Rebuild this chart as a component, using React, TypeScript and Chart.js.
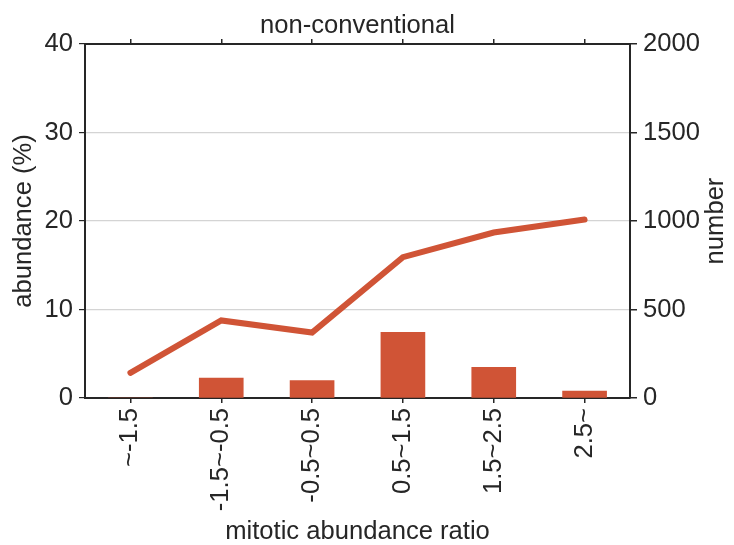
import React, { useEffect, useRef } from "react";
import { Chart, registerables } from "chart.js";

Chart.register(...registerables);

const categories = ["~-1.5", "-1.5~-0.5", "-0.5~0.5", "0.5~1.5", "1.5~2.5", "2.5~"];
const abundancePct = [0, 2.24, 1.98, 7.42, 3.46, 0.77];
const numberCounts = [142, 438, 370, 796, 935, 1008];
const leftTicks = [0, 10, 20, 30, 40];
const rightTicks = [0, 500, 1000, 1500, 2000];

const W = 734;
const H = 545;
const PLOT_LEFT = 85;
const PLOT_RIGHT = 630;
const PLOT_TOP = 44;
const PLOT_BOTTOM = 398;

const COLOR = "#D05436";
const AXIS = "#262626";
const FONT = "'Liberation Sans', Arial, Helvetica, sans-serif";
const FS = 25.6;

const rightTitle = {
  id: "rightTitle",
  afterDraw(chart: any) {
    const ctx = chart.ctx;
    const area = chart.chartArea;
    ctx.save();
    ctx.fillStyle = AXIS;
    ctx.font = `${FS}px ${FONT}`;
    ctx.textAlign = "center";
    ctx.textBaseline = "middle";
    ctx.translate(716, (area.top + area.bottom) / 2);
    ctx.rotate(-Math.PI / 2);
    ctx.fillText("number", 0, 0);
    ctx.restore();
  },
};

export default function App() {
  const ref = useRef<HTMLCanvasElement>(null);
  useEffect(() => {
    if (!ref.current) return;
    const chart = new Chart(ref.current, {
      type: "bar",
      data: {
        labels: categories,
        datasets: [
          {
            type: "line",
            data: numberCounts,
            yAxisID: "y2",
            xAxisID: "x",
            borderColor: COLOR,
            backgroundColor: COLOR,
            borderWidth: 6,
            pointRadius: 0,
            borderCapStyle: "round",
            tension: 0,
          } as any,
          {
            type: "bar",
            data: abundancePct,
            yAxisID: "y",
            xAxisID: "x",
            backgroundColor: COLOR,
            borderWidth: 0,
            barThickness: 44,
          } as any,
        ],
      },
      plugins: [rightTitle],
      options: {
        animation: false,
        responsive: false,
        maintainAspectRatio: false,
        layout: { padding: 0 },
        plugins: {
          legend: { display: false },
          tooltip: { enabled: false },
          title: { display: false },
        },
        scales: {
          x: {
            type: "category",
            position: "bottom",
            offset: true,
            grid: {
              offset: false,
              drawOnChartArea: false,
              tickLength: 5,
              tickColor: AXIS,
              lineWidth: 1.5,
            },
            border: { color: AXIS, width: 2 },
            ticks: {
              color: AXIS,
              font: { family: FONT, size: FS },
              minRotation: 90,
              maxRotation: 90,
              padding: 5,
              autoSkip: false,
            },
            title: {
              display: true,
              text: "mitotic abundance ratio",
              color: AXIS,
              font: { family: FONT, size: FS, lineHeight: 1 },
              padding: { top: 0, bottom: 0 },
            },
            afterFit(scale: any) {
              scale.height = H - PLOT_BOTTOM;
            },
          },
          x2: {
            type: "category",
            position: "top",
            labels: categories,
            offset: true,
            grid: {
              offset: false,
              drawOnChartArea: false,
              tickLength: 5,
              tickColor: AXIS,
              lineWidth: 1.5,
            },
            border: { color: AXIS, width: 2 },
            ticks: { display: false },
            title: {
              display: true,
              text: "non-conventional",
              color: AXIS,
              font: { family: FONT, size: FS },
              padding: { top: 11, bottom: 0 },
            },
            afterFit(scale: any) {
              scale.height = PLOT_TOP;
            },
          },
          y: {
            type: "linear",
            position: "left",
            min: 0,
            max: 40,
            afterBuildTicks(scale: any) {
              scale.ticks = leftTicks.map((v) => ({ value: v }));
            },
            grid: {
              color: (c: any) =>
                c.tick && (c.tick.value === 0 || c.tick.value === 40) ? "rgba(0,0,0,0)" : "#d4d4d4",
              lineWidth: 1.2,
              tickLength: 6,
              tickColor: AXIS,
              drawTicks: true,
            },
            border: { color: AXIS, width: 2 },
            ticks: {
              color: AXIS,
              font: { family: FONT, size: FS },
              padding: 6,
              callback: (v: any) => String(v),
            },
            title: {
              display: true,
              text: "abundance (%)",
              color: AXIS,
              font: { family: FONT, size: FS },
              padding: { top: 9, bottom: 0 },
            },
            afterFit(scale: any) {
              scale.width = PLOT_LEFT;
            },
          },
          y2: {
            type: "linear",
            position: "right",
            min: 0,
            max: 2000,
            afterBuildTicks(scale: any) {
              scale.ticks = rightTicks.map((v) => ({ value: v }));
            },
            grid: {
              drawOnChartArea: false,
              tickLength: 7,
              tickColor: AXIS,
              lineWidth: 1.5,
            },
            border: { color: AXIS, width: 2 },
            ticks: {
              color: AXIS,
              font: { family: FONT, size: FS },
              padding: 6,
              callback: (v: any) => String(v),
            },
            afterFit(scale: any) {
              scale.width = W - PLOT_RIGHT;
            },
          },
        },
      } as any,
    });
    return () => chart.destroy();
  }, []);

  return (
    <div style={{ position: "fixed", left: 0, top: 0, width: W, height: H, background: "#fff" }}>
      <canvas ref={ref} width={W} height={H} style={{ width: W, height: H, display: "block" }} />
    </div>
  );
}
